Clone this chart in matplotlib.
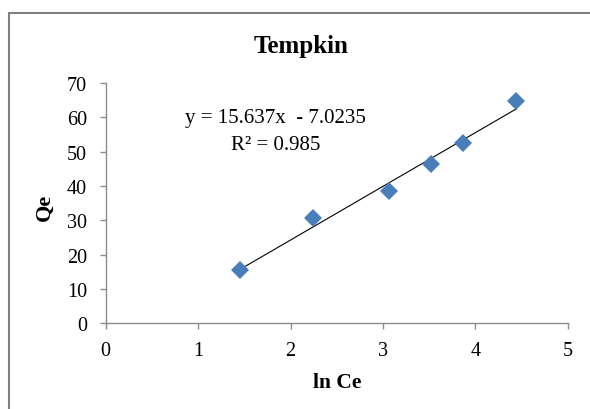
import matplotlib
matplotlib.use("Agg")
import matplotlib.pyplot as plt
import numpy as np
from matplotlib.patches import Rectangle

ln_ce = [1.45, 2.24, 3.066, 3.517, 3.87, 4.444]
qe = [15.6, 30.6, 38.5, 46.4, 52.4, 64.8]
slope = 15.637
intercept = -7.0235
r2 = 0.985
title = "Tempkin"
xlabel = "ln Ce"
ylabel = "Qe"
xticks = [0, 1, 2, 3, 4, 5]
yticks = [0, 10, 20, 30, 40, 50, 60, 70]

plt.rcParams['font.family'] = ['Liberation Serif', 'DejaVu Serif']
W, H = 590, 410
fig = plt.figure(figsize=(5.9, 4.1), dpi=100)

# outer chart frame
fig.patches.append(Rectangle((9 / W, -0.1), 1.2, (H - 14) / H + 0.1, transform=fig.transFigure,
                             fill=False, edgecolor='#7f7f7f', linewidth=1.5))

ax = fig.add_axes([105.7 / W, 1 - 324.3 / H, (567.7 - 105.7) / W, (324.3 - 84) / H])
ax.set_xlim(0, 5)
ax.set_ylim(0, 70)
ax.set_xticks(xticks)
ax.set_yticks(yticks)
for s in ['top', 'right']:
    ax.spines[s].set_visible(False)
for s in ['left', 'bottom']:
    ax.spines[s].set_color('#8c8c8c')
    ax.spines[s].set_linewidth(1.0)
ax.tick_params(axis='both', direction='out', length=4.3, width=1.0, color='#8c8c8c',
               labelsize=14.5, labelcolor='black')
ax.tick_params(axis='y', pad=9)
ax.tick_params(axis='x', pad=8.5)

xfit = np.array([min(ln_ce), max(ln_ce)])
ax.plot(xfit, slope * xfit + intercept, color='black', linewidth=0.8, zorder=2)
ax.plot(ln_ce, qe, linestyle='none', marker='D', markersize=9, color='#4a7ebb',
        markeredgewidth=0, zorder=3, clip_on=False)

fig.text(275 / W, 1 - 119 / H, f"y = {slope}x  - {abs(intercept)}", ha='center', va='center', fontsize=15)
fig.text(276 / W, 1 - 145 / H, f"R² = {r2}", ha='center', va='center', fontsize=15)

fig.text(301 / W, 1 - 46 / H, title, ha='center', va='center', fontsize=18, fontweight='bold')
fig.text(337 / W, 1 - 383 / H, xlabel, ha='center', va='center', fontsize=15.5, fontweight='bold')
fig.text(45 / W, 1 - 207 / H, ylabel, ha='center', va='center', fontsize=16, fontweight='bold',
         rotation=90)

fig.savefig("out.png", dpi=100)
